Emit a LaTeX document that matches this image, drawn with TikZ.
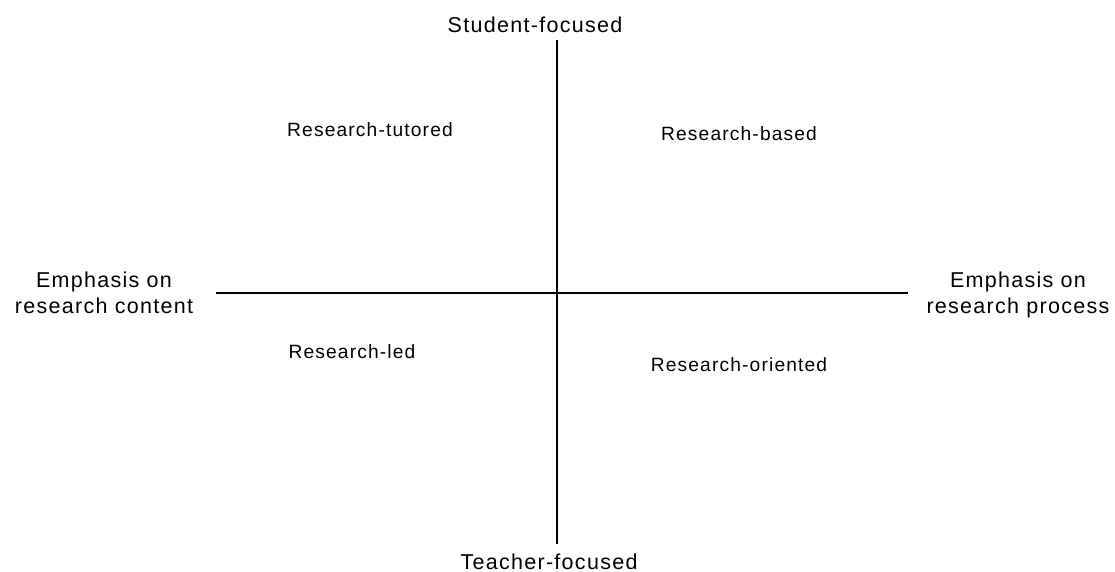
\documentclass[tikz,border=0pt]{standalone}
\usepackage{fontspec}
\setmainfont{Liberation Sans}[LetterSpace=6]
\usetikzlibrary{positioning}

\begin{document}
\begin{tikzpicture}[
  x=1pt, y=-1pt,
  axislabel/.style={anchor=base, inner sep=0pt, align=center,
                    font=\fontsize{21.5}{26}\selectfont},
  quadlabel/.style={anchor=base, inner sep=0pt,
                    font=\fontsize{19.2}{22}\selectfont},
  axis/.style={draw, line width=1.4pt}
]
  \useasboundingbox (0,0) rectangle (1115,572);

  % Axis ends
  \coordinate (top) at (557,40);
  \coordinate (bottom) at (557,544);
  \coordinate (left) at (216,293);
  \coordinate (right) at (908,293);

  % Axes
  \draw[axis] (top) -- (bottom);
  \draw[axis] (left) -- (right);

  % Axis labels
  \node[axislabel] (student) at (535,33) {Student-focused};
  \node[axislabel] (teacher) at (549,569) {Teacher-focused};
  \node[axislabel, anchor=north] (content) at (104,272)
    {Emphasis on\\research content};
  \node[axislabel, anchor=north] (process) at (1018,272)
    {Emphasis on\\research process};

  % Quadrants
  \node[quadlabel] (tutored) at (370,137) {Research-tutored};
  \node[quadlabel] (based) at (739,141) {Research-based};
  \node[quadlabel] (led) at (352,358) {Research-led};
  \node[quadlabel] (oriented) at (739,371) {Research-oriented};
\end{tikzpicture}
\end{document}
